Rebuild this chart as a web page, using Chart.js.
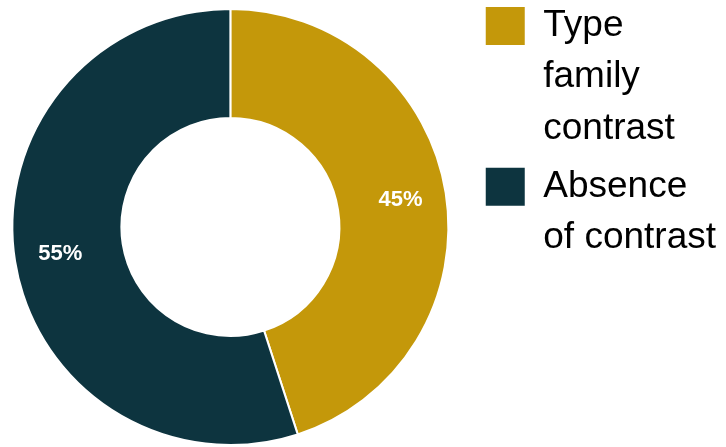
<!DOCTYPE html>
<html>
<head>
<meta charset="utf-8">
<script src="https://cdn.jsdelivr.net/npm/chart.js@4.4.1/dist/chart.umd.min.js"></script>
<style>
  html, body { margin: 0; padding: 0; background: #fff; overflow: hidden; }
  /* canvas is a bit bigger than the window so the ring sits where it does in the original */
  canvas { display: block; position: absolute; left: -18px; top: 0; }
</style>
</head>
<body>
<canvas id="contrastChart" width="744" height="454"></canvas>
<script>
// Legend lines for each category, and the share of each slice
const categories = [['Type', 'family', 'contrast'], ['Absence', 'of contrast']];
const shares = [45, 55];
const sliceColors = ['#C4980A', '#0D343F'];

const fontFamily = '"Liberation Sans", Arial, Helvetica, sans-serif';

// Draws the white percent text inside each slice
const percentLabels = {
  id: 'percentLabels',
  afterDatasetsDraw(chart) {
    const ctx = chart.ctx;
    const meta = chart.getDatasetMeta(0);
    const total = shares.reduce((a, b) => a + b, 0);
    ctx.save();
    ctx.fillStyle = '#ffffff';
    ctx.font = 'bold 22px ' + fontFamily;
    ctx.textAlign = 'center';
    ctx.textBaseline = 'middle';
    meta.data.forEach((arc, i) => {
      const p = arc.getProps(['x', 'y', 'startAngle', 'endAngle', 'innerRadius', 'outerRadius']);
      const mid = (p.startAngle + p.endAngle) / 2;
      const r = p.innerRadius + (p.outerRadius - p.innerRadius) * 0.58;
      const pct = Math.round(shares[i] / total * 100) + '%';
      ctx.fillText(pct, p.x + Math.cos(mid) * r, p.y + Math.sin(mid) * r);
    });
    ctx.restore();
  }
};

const contrastChart = new Chart(document.getElementById('contrastChart'), {
  type: 'doughnut',
  data: {
    labels: categories,
    datasets: [{
      data: shares,
      backgroundColor: sliceColors,
      borderColor: '#ffffff',
      borderWidth: 2,
      radius: 218,
      cutout: '50%'
    }]
  },
  options: {
    responsive: false,
    animation: false,
    events: [],
    plugins: {
      tooltip: { enabled: false },
      legend: {
        position: 'right',
        align: 'start',
        labels: {
          boxWidth: 39,
          boxHeight: 38,
          padding: 7,
          color: '#222222',
          font: { family: fontFamily, size: 37, lineHeight: 1.385 },
          generateLabels() {
            return categories.map((text, i) => ({
              text: text,
              fillStyle: sliceColors[i],
              strokeStyle: sliceColors[i],
              lineWidth: 0,
              hidden: false,
              index: i
            }));
          }
        }
      }
    }
  },
  plugins: [percentLabels]
});
</script>
</body>
</html>
